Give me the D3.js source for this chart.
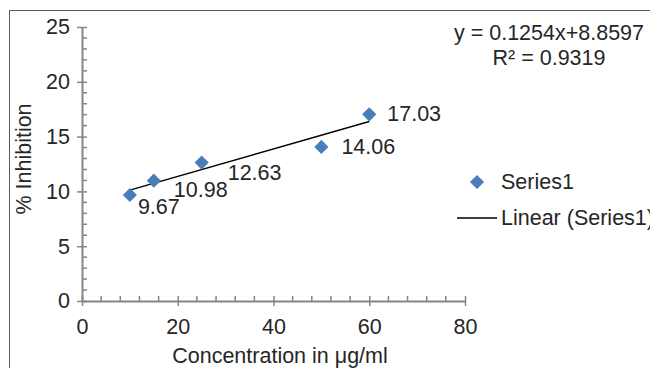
<!DOCTYPE html>
<html>
<head>
<meta charset="utf-8">
<script src="https://cdn.jsdelivr.net/npm/d3@7"></script>
<style>
  body { margin: 0; background: #fff; }
  text { font-family: "Liberation Sans", Arial, sans-serif; fill: #262626; }
</style>
</head>
<body>
<div id="chart"></div>
<script>
// data
var concentration = [10, 15, 25, 50, 60];
var inhibition = [9.67, 10.98, 12.63, 14.06, 17.03];
var xTicks = [0, 20, 40, 60, 80];
var yTicks = [0, 5, 10, 15, 20, 25];
var slope = 0.1254, intercept = 8.8597;
var equationText = "y = 0.1254x+8.8597";
var r2Text = "R\u00b2 = 0.9319";

// label offsets (px) from each point, like the moved Excel labels
var labelShift = [[8, 19], [20, 16], [26, 17], [20, 7], [18, 7]];

var width = 650, height = 368;
var axisColor = "#868686", markColor = "#4a7ebb";
var fontSize = "21.5px";

var svg = d3.select("#chart")
    .append("svg")
    .attr("width", width)
    .attr("height", height);

// outer chart frame (only top and left visible)
svg.append("path")
    .attr("d", "M9.5,368V10.5H650")
    .attr("fill", "none")
    .attr("stroke", "#595959")
    .attr("stroke-width", 1);

var x = d3.scaleLinear()
    .domain([0, 80])
    .range([82, 465]);

var y = d3.scaleLinear()
    .domain([0, 25])
    .range([301, 27]);

// minor ticks
var xMinor = d3.range(0, 81, 4).filter(function (v) { return v % 20 !== 0; });
var yMinor = d3.range(0, 26, 1).filter(function (v) { return v % 5 !== 0; });

svg.append("g")
    .selectAll("line")
    .data(xMinor)
    .enter()
    .append("line")
    .attr("x1", function (d) { return x(d); })
    .attr("x2", function (d) { return x(d); })
    .attr("y1", y(0) - 5)
    .attr("y2", y(0))
    .attr("stroke", axisColor)
    .attr("stroke-width", 1.5);

svg.append("g")
    .selectAll("line")
    .data(yMinor)
    .enter()
    .append("line")
    .attr("x1", x(0))
    .attr("x2", x(0) + 5)
    .attr("y1", function (d) { return y(d); })
    .attr("y2", function (d) { return y(d); })
    .attr("stroke", axisColor)
    .attr("stroke-width", 1.5);

// X axis
var xAxis = svg.append("g")
    .attr("transform", "translate(0," + y(0) + ")")
    .call(d3.axisBottom(x).tickValues(xTicks).tickSize(5).tickPadding(13).tickSizeOuter(0));

// Y axis
var yAxis = svg.append("g")
    .attr("transform", "translate(" + x(0) + ",0)")
    .call(d3.axisLeft(y).tickValues(yTicks).tickSize(5).tickPadding(7).tickSizeOuter(0));

[xAxis, yAxis].forEach(function (ax) {
    ax.select(".domain").attr("stroke", axisColor).attr("stroke-width", 2);
    ax.selectAll(".tick line").attr("stroke", axisColor).attr("stroke-width", 1.5);
    ax.selectAll(".tick text")
        .attr("font-family", "Liberation Sans, Arial, sans-serif")
        .attr("font-size", fontSize)
        .attr("fill", "#262626");
});
// major ticks cross the axis
xAxis.selectAll(".tick line").attr("y1", -5);
yAxis.selectAll(".tick line").attr("x1", 5);

// trendline
svg.append("line")
    .attr("x1", x(d3.min(concentration)))
    .attr("y1", y(slope * d3.min(concentration) + intercept))
    .attr("x2", x(d3.max(concentration)))
    .attr("y2", y(slope * d3.max(concentration) + intercept))
    .attr("stroke", "#000")
    .attr("stroke-width", 1.5);

// points
var diamond = d3.symbol().type(d3.symbolSquare).size(100);

svg.append("g")
    .selectAll("path")
    .data(inhibition)
    .enter()
    .append("path")
    .attr("d", diamond)
    .attr("transform", function (d, i) {
        return "translate(" + x(concentration[i]) + "," + y(d) + ") rotate(45)";
    })
    .attr("fill", markColor);

// data labels
svg.append("g")
    .selectAll("text")
    .data(inhibition)
    .enter()
    .append("text")
    .attr("x", function (d, i) { return x(concentration[i]) + labelShift[i][0]; })
    .attr("y", function (d, i) { return y(d) + labelShift[i][1]; })
    .attr("font-size", fontSize)
    .text(function (d) { return d3.format(".2f")(d); });

// equation
svg.append("text")
    .attr("x", 549)
    .attr("y", 40)
    .attr("text-anchor", "middle")
    .attr("font-size", fontSize)
    .text(equationText);

svg.append("text")
    .attr("x", 549)
    .attr("y", 65)
    .attr("text-anchor", "middle")
    .attr("font-size", fontSize)
    .text(r2Text);

// legend
svg.append("path")
    .attr("d", diamond)
    .attr("transform", "translate(477,182) rotate(45)")
    .attr("fill", markColor);

svg.append("text")
    .attr("x", 501)
    .attr("y", 189)
    .attr("font-size", fontSize)
    .text("Series1");

svg.append("line")
    .attr("x1", 457)
    .attr("x2", 497)
    .attr("y1", 218)
    .attr("y2", 218)
    .attr("stroke", "#000")
    .attr("stroke-width", 1.5);

svg.append("text")
    .attr("x", 501)
    .attr("y", 225)
    .attr("font-size", fontSize)
    .text("Linear (Series1)");

// axis titles
svg.append("text")
    .attr("x", 280)
    .attr("y", 363)
    .attr("text-anchor", "middle")
    .attr("font-size", fontSize)
    .text("Concentration in \u03bcg/ml");

svg.append("text")
    .attr("transform", "rotate(-90)")
    .attr("x", -159)
    .attr("y", 31)
    .attr("text-anchor", "middle")
    .attr("font-size", fontSize)
    .text("% Inhibition");
</script>
</body>
</html>
